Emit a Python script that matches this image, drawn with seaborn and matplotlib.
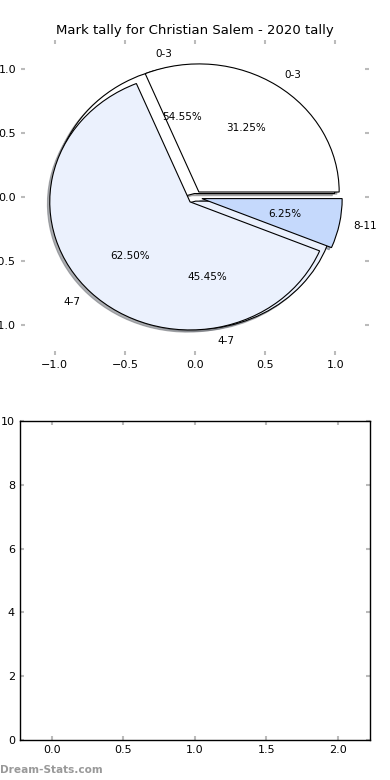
import matplotlib
matplotlib.use("Agg")
import matplotlib.pyplot as plt
import seaborn as sns

# data
TITLE = "Mark tally for Christian Salem - 2020 tally"
labels_a = ["0-3", "4-7", "8-11"]
counts_a = [5, 10, 1]          # 31.25 / 62.50 / 6.25 %
colors_a = ["#FFFFFF", "#EBF1FD", "#C5D9FC"]
labels_b = ["0-3", "4-7"]
counts_b = [6, 5]              # 54.55 / 45.45 %
colors_b = ["#FFFFFF", "#EBF1FD"]
pie_ticks = [-1.0, -0.5, 0.0, 0.5, 1.0]
bottom_yticks = [0, 2, 4, 6, 8, 10]
bottom_xticks = [0.0, 0.5, 1.0, 1.5, 2.0]

sns.set_style("white")
plt.rcParams["font.family"] = ["DejaVu Sans"]
plt.rcParams.update({
    "text.color": "black", "axes.labelcolor": "black",
    "xtick.direction": "in", "ytick.direction": "in",
    "xtick.color": "#BBBBBB", "ytick.color": "#BBBBBB",
    "xtick.labelcolor": "black", "ytick.labelcolor": "black",
    "xtick.labelsize": 8, "ytick.labelsize": 8,
    "xtick.major.size": 3, "ytick.major.size": 3,
    "xtick.major.width": 1.5, "ytick.major.width": 1.5,
    "xtick.top": True, "ytick.right": True,
    "xtick.bottom": True, "ytick.left": True,
})

fig = plt.figure(figsize=(3.9, 7.8), dpi=100)
ax = fig.add_axes([0.054, 0.545, 0.892, 0.404])
ax2 = fig.add_axes([0.051, 0.0513, 0.897, 0.409])

wp = {"edgecolor": "black", "linewidth": 0.8}
shadow = {"ox": -0.012, "oy": -0.012, "shade": 0.5, "alpha": 0.6}
ax.pie(counts_b, labels=labels_b, colors=colors_b, explode=[0.03] * len(counts_b),
       autopct="%1.2f%%", shadow=shadow, startangle=0, wedgeprops=wp,
       textprops={"fontsize": 7.5, "color": "black"})
ax.pie(counts_a, labels=labels_a, colors=colors_a, explode=[0.05] * len(counts_a),
       autopct="%1.2f%%", shadow=shadow, startangle=0, wedgeprops=wp,
       textprops={"fontsize": 7.5, "color": "black"})
ax.set_aspect("auto")
ax.set_xlim(-1.24, 1.24)
ax.set_ylim(-1.23, 1.23)
ax.set_xticks(pie_ticks)
ax.set_yticks(pie_ticks)
ax.set_xticklabels(["\u22121.0", "\u22120.5", "0.0", "0.5", "1.0"])
ax.set_yticklabels(["\u22121.0", "\u22120.5", "0.0", "0.5", "1.0"])
for s in ax.spines.values():
    s.set_visible(False)
ax.set_title(TITLE, fontsize=9.5, pad=4)

ax2.set_xlim(-0.225, 2.225)
ax2.set_ylim(0, 10)
ax2.set_xticks(bottom_xticks)
ax2.set_yticks(bottom_yticks)
for s in ax2.spines.values():
    s.set_visible(True)
    s.set_color("black")
    s.set_linewidth(1.0)

fig.text(0.0, 0.006, "Dream-Stats.com", fontsize=7.6, color="#999999",
         fontweight="bold", ha="left", va="bottom")

fig.savefig("out.png", dpi=100)
